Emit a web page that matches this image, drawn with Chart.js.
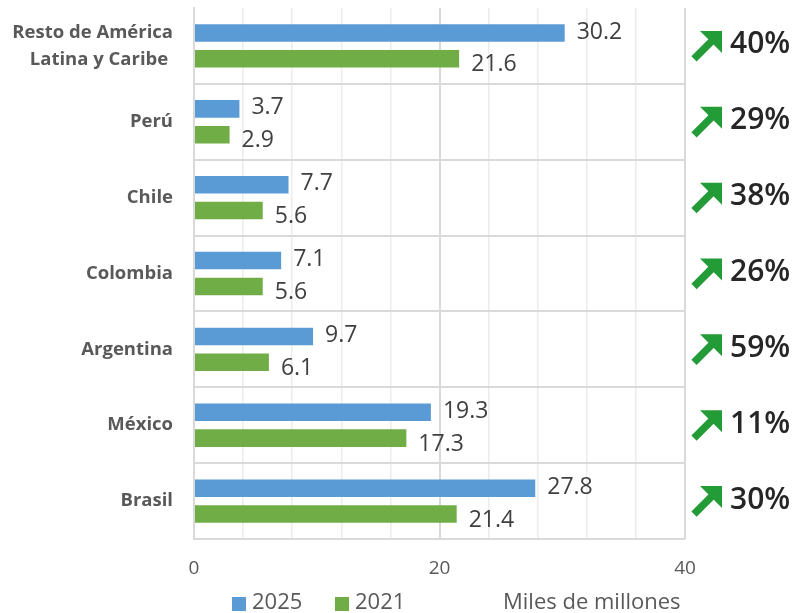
<!DOCTYPE html>
<html lang="es">
<head>
<meta charset="utf-8">
<title>Miles de millones por país</title>
<script src="https://cdn.jsdelivr.net/npm/chart.js@4/dist/chart.umd.min.js"></script>
<style>
  html, body { margin: 0; padding: 0; background: #fff; }
  #contenedor { width: 798px; height: 613px; position: relative; }
</style>
</head>
<body>
<div id="contenedor"><canvas id="grafico"></canvas></div>
<script>
// Datos del gráfico
const categorias = [['Resto de América', 'Latina y Caribe '], 'Perú', 'Chile', 'Colombia', 'Argentina', 'México', 'Brasil'];
const valores2025 = [30.2, 3.7, 7.7, 7.1, 9.7, 19.3, 27.8];
const valores2021 = [21.6, 2.9, 5.6, 5.6, 6.1, 17.3, 21.4];
const crecimiento = ['40%', '29%', '38%', '26%', '59%', '11%', '30%'];
const ticksEje = [0, 20, 40];
const unidad = 'Miles de millones';

// Colores y estilos
const COLORES = {
  azul: '#5B9BD5',
  verde: '#70AD47',
  flecha: '#239B37',
  rejilla: '#d9d9d9',
  rejillaSuave: '#ececec',
  texto: '#595959',
  etiqueta: '#404040',
  oscuro: '#262626'
};
const FUENTE = "'Open Sans', sans-serif";

Chart.defaults.font.family = FUENTE;

/**
 * Etiquetas de valor al final de cada barra
 */
const etiquetasValor = {
  id: 'etiquetasValor',
  afterDatasetsDraw(chart) {
    const ctx = chart.ctx;
    ctx.save();
    ctx.font = '23px ' + FUENTE;
    ctx.fillStyle = COLORES.etiqueta;
    ctx.textAlign = 'left';
    ctx.textBaseline = 'middle';
    chart.data.datasets.forEach((ds, di) => {
      const meta = chart.getDatasetMeta(di);
      meta.data.forEach((barra, i) => {
        const dy = di === 0 ? -1 : 6;
        ctx.fillText(ds.data[i].toFixed(1), barra.x + 12, barra.y + dy);
      });
    });
    ctx.restore();
  }
};

/**
 * Columna derecha: flecha verde y porcentaje de crecimiento
 */
const columnaCrecimiento = {
  id: 'columnaCrecimiento',
  afterDraw(chart) {
    const ctx = chart.ctx;
    const escalaY = chart.scales.y;
    const x0 = chart.chartArea.right + 7;
    ctx.save();
    crecimiento.forEach((txt, i) => {
      const yc = escalaY.getPixelForValue(i);
      // flecha
      ctx.strokeStyle = COLORES.flecha;
      ctx.fillStyle = COLORES.flecha;
      ctx.lineWidth = 7.5;
      ctx.lineCap = 'butt';
      ctx.beginPath();
      ctx.moveTo(x0 + 2, yc + 13);
      ctx.lineTo(x0 + 20, yc - 5);
      ctx.stroke();
      ctx.beginPath();
      ctx.moveTo(x0 + 8, yc - 15);
      ctx.lineTo(x0 + 30, yc - 15);
      ctx.lineTo(x0 + 30, yc + 7);
      ctx.closePath();
      ctx.fill();
      // porcentaje
      ctx.font = '600 30px ' + FUENTE;
      ctx.fillStyle = COLORES.oscuro;
      ctx.textAlign = 'left';
      ctx.textBaseline = 'middle';
      ctx.fillText(txt, x0 + 38, yc - 1);
    });
    ctx.restore();
  }
};

/**
 * Leyenda inferior con la unidad
 */
const leyendaInferior = {
  id: 'leyendaInferior',
  afterDraw(chart) {
    const ctx = chart.ctx;
    const y = 603;
    const posiciones = [232, 335];
    ctx.save();
    ctx.font = '22px ' + FUENTE;
    ctx.textBaseline = 'middle';
    ctx.textAlign = 'left';
    chart.data.datasets.forEach((ds, i) => {
      const x = posiciones[i];
      ctx.fillStyle = ds.backgroundColor;
      ctx.fillRect(x, y - 6, 14, 14);
      ctx.fillStyle = COLORES.texto;
      ctx.fillText(ds.label, x + 20, y);
    });
    ctx.fillText(unidad, 503, y);
    ctx.restore();
  }
};

new Chart(document.getElementById('grafico'), {
  type: 'bar',
  data: {
    labels: categorias,
    datasets: [
      {
        label: '2025',
        data: valores2025,
        backgroundColor: COLORES.azul,
        categoryPercentage: 0.68,
        barPercentage: 0.68
      },
      {
        label: '2021',
        data: valores2021,
        backgroundColor: COLORES.verde,
        categoryPercentage: 0.68,
        barPercentage: 0.68
      }
    ]
  },
  options: {
    indexAxis: 'y',
    responsive: true,
    maintainAspectRatio: false,
    animation: false,
    layout: { padding: { top: 8, right: 113, left: 0, bottom: 0 } },
    plugins: {
      legend: { display: false },
      tooltip: { enabled: false }
    },
    scales: {
      x: {
        min: 0,
        max: 40,
        afterFit: (escala) => {
          escala.height = 74;
          escala.paddingLeft = 0;
          escala.paddingRight = 0;
        },
        ticks: {
          stepSize: 4,
          autoSkip: false,
          maxRotation: 0,
          padding: 18,
          color: COLORES.texto,
          font: { size: 19 },
          callback: (v) => ticksEje.includes(v) ? String(v) : ''
        },
        grid: {
          drawTicks: false,
          color: (c) => ticksEje.includes(c.tick && c.tick.value) ? COLORES.rejilla : COLORES.rejillaSuave,
          lineWidth: (c) => ticksEje.includes(c.tick && c.tick.value) ? 2 : 1.5
        },
        border: { display: false }
      },
      y: {
        afterFit: (escala) => {
          escala.width = 194;
          escala.paddingTop = 0;
          escala.paddingBottom = 0;
        },
        ticks: {
          padding: 21,
          color: COLORES.texto,
          font: { size: 18.5, weight: 'bold', lineHeight: 1.46 }
        },
        grid: {
          drawTicks: false,
          color: (c) => c.index === 0 ? 'rgba(0,0,0,0)' : COLORES.rejilla,
          lineWidth: 2
        },
        border: { display: true, color: COLORES.rejilla, width: 2 }
      }
    }
  },
  plugins: [etiquetasValor, columnaCrecimiento, leyendaInferior]
});
</script>
</body>
</html>
